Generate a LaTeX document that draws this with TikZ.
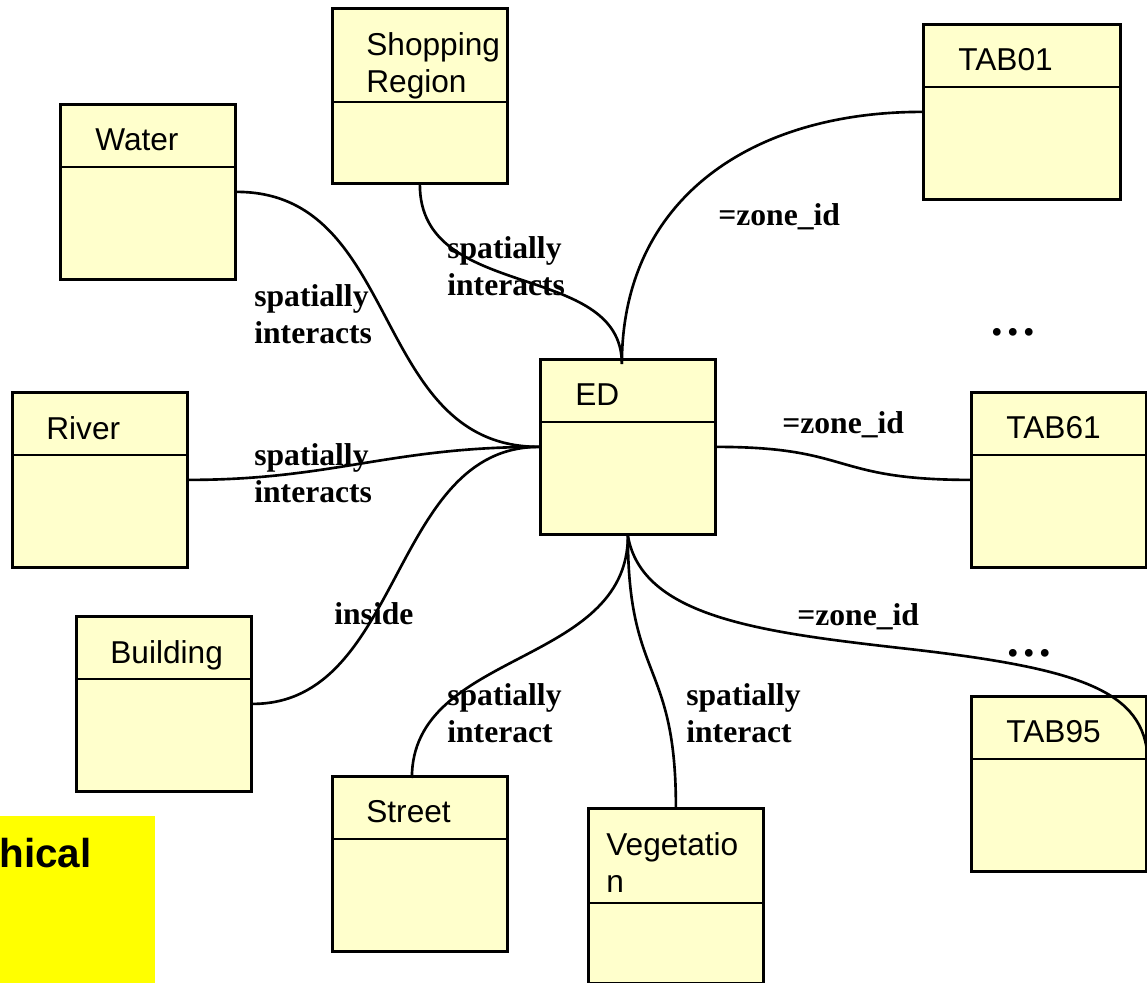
\documentclass[tikz,border=0pt]{standalone}
\usepackage{fontspec}
\setmainfont{Liberation Serif}
\setsansfont{Liberation Sans}
\usepackage{tikz}
\usetikzlibrary{calc}
\definecolor{clsyellow}{HTML}{FFFFCC}
\definecolor{noteyellow}{HTML}{FFFF00}
\newcommand{\umlcls}[7]{%
  \node[cls, minimum width=#4] (#1) at (#2,#3) {};
  \draw[clsline] ($(#1.north west)+(0,#5)$) -- ($(#1.north east)+(0,#5)$);
  \node[clsname] (#1-name) at ($(#1.north west)+(#6,25)$) {#7};
}

\begin{document}
\begin{tikzpicture}[x=0.02cm,y=-0.02cm]
\tikzstyle{cls}=[draw=black,fill=clsyellow,line width=1.6pt,anchor=north west,minimum height=3.5cm,inner sep=0pt]
\tikzstyle{clsline}=[line width=1.6pt]
\tikzstyle{clsname}=[anchor=north west,inner sep=0pt,align=left,font=\sffamily\fontsize{18}{21}\selectfont]
\tikzstyle{rel}=[line width=1.5pt]
\tikzstyle{lbl}=[anchor=north west,inner sep=0pt,align=left,font=\bfseries\fontsize{18}{21}\selectfont]
\tikzstyle{more}=[anchor=base,inner sep=0pt,font=\bfseries\fontsize{27}{30}\selectfont]
\useasboundingbox (0,0) rectangle (1147,983);

\umlcls{SHOP}{331}{7}{3.5cm}{95}{35}{Shopping\\Region}
\umlcls{WATER}{59}{103}{3.5cm}{64}{36}{Water}
\umlcls{TAB01}{922}{23}{3.94cm}{64}{36}{TAB01}
\umlcls{RIVER}{11}{391}{3.5cm}{64}{35}{River}
\umlcls{ED}{539}{358}{3.5cm}{64}{36}{ED}
\umlcls{TAB61}{970}{391}{3.5cm}{64}{36}{TAB61}
\umlcls{BUILD}{75}{615}{3.5cm}{64}{35}{Building}
\umlcls{STREET}{331}{775}{3.5cm}{64}{35}{Street}
\umlcls{VEG}{587}{807}{3.5cm}{96}{19}{Vegetatio\\n}
\umlcls{TAB95}{970}{695}{3.5cm}{64}{36}{TAB95}

\node[fill=noteyellow,anchor=north west,inner sep=0pt,minimum width=3.1cm,minimum height=3.34cm] (NOTE) at (0,816) {};
\node[anchor=base east,inner sep=0pt,font=\sffamily\bfseries\fontsize{23}{27}\selectfont] (NOTE-t) at (92,867) {hical};

\draw[rel] (WATER.east) .. controls +(166,0) and +(-169,0) .. (ED.west);
\draw[rel] (RIVER.east) .. controls +(144,0) and +(-149,0) .. (ED.west);
\draw[rel] (BUILD.east) .. controls +(150,0) and +(-149,0) .. (ED.west);
\draw[rel] (SHOP.south) .. controls +(0,118) and +(0,-104) .. ($(ED.north)+(-6,6)$);
\draw[rel] (TAB01.west) .. controls +(-172,0) and +(0,-164) .. ($(ED.north)+(-6,6)$);
\draw[rel] (ED.east) .. controls +(136,0) and +(-140,0) .. (TAB61.west);
\draw[rel] (ED.south) .. controls +(0,131) and +(0,-128) .. ($(STREET.north)+(-8,3)$);
\draw[rel] (ED.south) .. controls +(0,146) and +(0,-147) .. (VEG.north);
\coordinate (BEND) at (900,648);
\draw[rel] (ED.south) .. controls +(14,81) and (760,632) .. (BEND)
  .. controls (1080,668) and (1145,690) .. ($(TAB95.north east)+(0,65)$);

\node[lbl] (L-WATER) at (254,284) {spatially\\interacts};
\node[lbl] (L-SHOP) at (447,236) {spatially\\interacts};
\node[lbl] (L-RIVER) at (254,443) {spatially\\interacts};
\node[lbl] (L-BUILD) at (334,602) {inside};
\node[lbl] (L-STREET) at (447,683) {spatially\\interact};
\node[lbl] (L-VEG) at (686,683) {spatially\\interact};
\node[lbl] (L-TAB01) at (718,203) {=zone\_id};
\node[lbl] (L-TAB61) at (782,411) {=zone\_id};
\node[lbl] (L-TAB95) at (797,603) {=zone\_id};
\node[more] (DOTS1) at (1013,336) {…};
\node[more] (DOTS2) at (1029,656) {…};
\end{tikzpicture}
\end{document}
